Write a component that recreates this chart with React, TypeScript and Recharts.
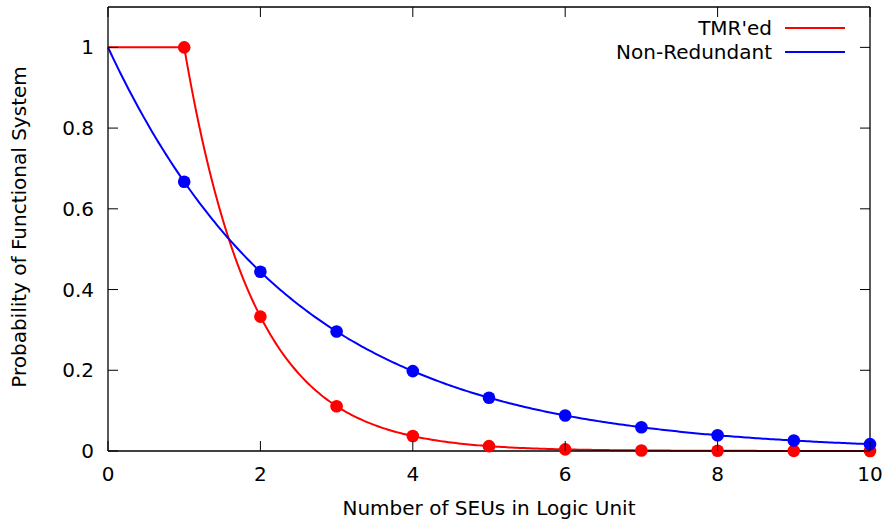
import { Line, LineChart, XAxis, YAxis } from "recharts";

const seuCounts = [0, 1, 2, 3, 4, 5, 6, 7, 8, 9, 10];
const tmrValues = [1, 1, 0.333, 0.111, 0.037, 0.012, 0.004, 0.0014, 0.0005, 0.0002, 0.0001];
const nonRedundantValues = [1, 0.667, 0.444, 0.296, 0.198, 0.132, 0.088, 0.059, 0.039, 0.026, 0.017];
const xTicks = [0, 2, 4, 6, 8, 10];
const yTicks = [0, 0.2, 0.4, 0.6, 0.8, 1];

const data = seuCounts.map((n, i) => ({
  n,
  tmr: tmrValues[i],
  nonRedundant: nonRedundantValues[i],
}));

const W = 887;
const H = 523;
// plot box (gnuplot style border)
const LEFT = 108;
const RIGHT = 870;
const TOP = 7;
const BOTTOM = 451;
const TICK = 10;

const FONT = "'DejaVu Sans', sans-serif";
const FS = 20;

// smooth curve: log-linear between neighbouring points (height above the zero line)
function expCurve(context: any) {
  let prev: [number, number] | null = null;
  return {
    areaStart() {},
    areaEnd() {},
    lineStart() {
      prev = null;
    },
    lineEnd() {},
    point(x: number, y: number) {
      if (!prev) {
        context.moveTo(x, y);
      } else {
        const [x0, y0] = prev;
        const a = Math.max(BOTTOM - y0, 0.01);
        const b = Math.max(BOTTOM - y, 0.01);
        const steps = 30;
        for (let k = 1; k <= steps; k++) {
          const t = k / steps;
          context.lineTo(x0 + (x - x0) * t, BOTTOM - a * Math.pow(b / a, t));
        }
      }
      prev = [x, y];
    },
  };
}

// x tick: label below, inward marks on bottom and top border
function XTick(props: any) {
  const { x, payload } = props;
  return (
    <g>
      <line x1={x} y1={BOTTOM} x2={x} y2={BOTTOM - TICK} stroke="#000" />
      <line x1={x} y1={TOP} x2={x} y2={TOP + TICK} stroke="#000" />
      <text x={x} y={BOTTOM + 30} textAnchor="middle" fill="#000" fontSize={FS} fontFamily={FONT}>
        {payload.value}
      </text>
    </g>
  );
}

// y tick: label left, inward marks on left and right border
function YTick(props: any) {
  const { y, payload } = props;
  return (
    <g>
      <line x1={LEFT} y1={y} x2={LEFT + TICK} y2={y} stroke="#000" />
      <line x1={RIGHT} y1={y} x2={RIGHT - TICK} y2={y} stroke="#000" />
      <text x={LEFT - 14} y={y + 7} textAnchor="end" fill="#000" fontSize={FS} fontFamily={FONT}>
        {payload.value}
      </text>
    </g>
  );
}

function makeDot(color: string) {
  return (props: any) => {
    const { cx, cy, payload, index } = props;
    if (payload.n === 0 || cx == null || cy == null) return <g key={`d-${index}`} />;
    return <circle key={`d-${index}`} cx={cx} cy={cy} r={6.3} fill={color} stroke="none" />;
  };
}

const axisLine = { stroke: "#000", strokeWidth: 1.3 };

export default function App() {
  return (
    <div style={{ position: "absolute", left: 0, top: 0, width: W, height: H, background: "#fff", fontFamily: FONT }}>
      <LineChart width={W} height={H} data={data} margin={{ top: 0, right: 0, bottom: 0, left: 0 }}>
        <XAxis
          xAxisId="b"
          dataKey="n"
          type="number"
          domain={[0, 10]}
          ticks={xTicks}
          height={H - BOTTOM}
          tickLine={false}
          axisLine={axisLine}
          tick={<XTick />}
        />
        <XAxis xAxisId="t" dataKey="n" type="number" orientation="top" domain={[0, 10]} height={TOP} tick={false} tickLine={false} axisLine={axisLine} />
        <YAxis
          yAxisId="l"
          type="number"
          domain={[0, 1.1]}
          ticks={yTicks}
          width={LEFT}
          tickLine={false}
          axisLine={axisLine}
          tick={<YTick />}
        />
        <YAxis yAxisId="r" type="number" orientation="right" domain={[0, 1.1]} width={W - RIGHT} tick={false} tickLine={false} axisLine={axisLine} />

        <Line xAxisId="b" yAxisId="l" type={expCurve as any} dataKey="tmr" stroke="#ff0000" strokeWidth={2} dot={makeDot("#ff0000")} activeDot={false} isAnimationActive={false} />
        <Line xAxisId="b" yAxisId="l" type={expCurve as any} dataKey="nonRedundant" stroke="#0000ff" strokeWidth={2} dot={makeDot("#0000ff")} activeDot={false} isAnimationActive={false} />
      </LineChart>

      {/* axis titles */}
      <div
        style={{
          position: "absolute",
          left: 19,
          top: 227,
          transform: "translate(-50%, -50%) rotate(-90deg)",
          whiteSpace: "nowrap",
          fontSize: FS,
          color: "#000",
        }}
      >
        Probability of Functional System
      </div>
      <div
        style={{
          position: "absolute",
          left: 489,
          top: 508,
          transform: "translate(-50%, -50%)",
          whiteSpace: "nowrap",
          fontSize: FS,
          color: "#000",
        }}
      >
        Number of SEUs in Logic Unit
      </div>

      {/* legend */}
      {[
        { label: "TMR'ed", color: "#ff0000", y: 28 },
        { label: "Non-Redundant", color: "#0000ff", y: 52 },
      ].map((item) => (
        <div key={item.label}>
          <div
            style={{
              position: "absolute",
              right: W - 772,
              top: item.y - 12,
              height: 24,
              lineHeight: "24px",
              fontSize: FS,
              whiteSpace: "nowrap",
              color: "#000",
            }}
          >
            {item.label}
          </div>
          <div style={{ position: "absolute", left: 785, top: item.y - 1, width: 60, height: 2, background: item.color }} />
        </div>
      ))}
    </div>
  );
}
